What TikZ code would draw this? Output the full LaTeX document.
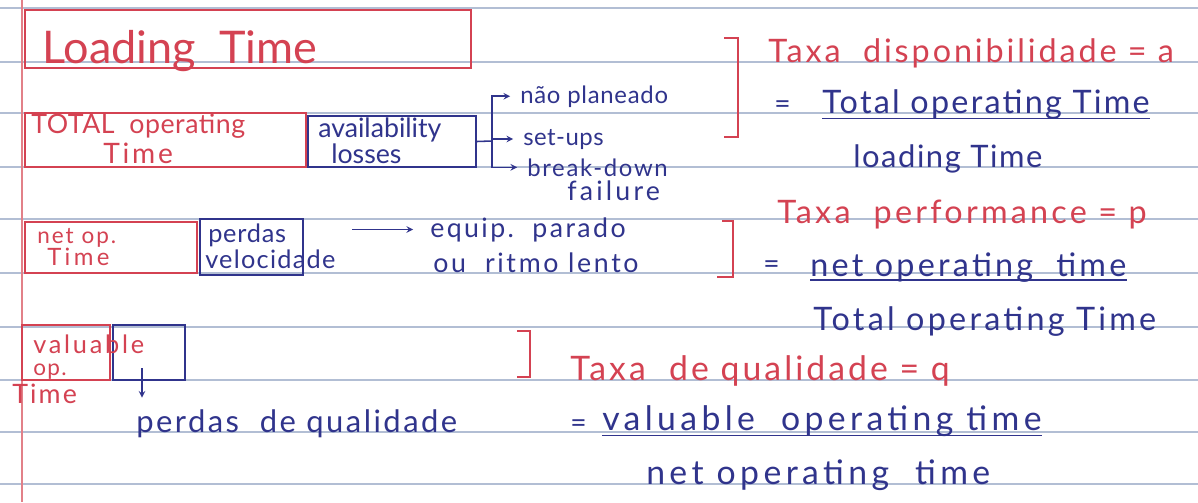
\documentclass[tikz,border=0pt]{standalone}
\usepackage{fontspec}
\setmainfont{Lato}
\usetikzlibrary{fit}
\definecolor{inkred}{RGB}{212,66,82}
\definecolor{inkblue}{RGB}{48,52,140}
\definecolor{ruling}{RGB}{178,190,212}
\definecolor{margin}{RGB}{226,128,136}
% size, letter spacing
\newcommand{\hw}[2]{\fontsize{#1}{#1}\selectfont\addfontfeature{LetterSpace=#2}}
\tikzset{
  redtxt/.style={text=inkred,anchor=base west,inner sep=0pt},
  bluetxt/.style={text=inkblue,anchor=base west,inner sep=0pt},
  redbox/.style={draw=inkred,line width=1.2pt,inner sep=0pt},
  bluebox/.style={draw=inkblue,line width=1.2pt,inner sep=0pt},
  redpen/.style={draw=inkred,line width=1.3pt},
  bluepen/.style={draw=inkblue,line width=1.1pt},
}
\begin{document}
\begin{tikzpicture}[x=0.025cm,y=-0.025cm,>=stealth]
\useasboundingbox[fill=white] (0,0) rectangle (1198,502);
% lined paper
\foreach \y in {8,62,113,167,219,273,327,380,432,484}
  \draw[ruling,line width=0.8pt] (0,\y) -- (1198,\y);
\draw[margin,line width=1.2pt] (22,0) -- (22,502);

% loading time
\node[redbox,fit={(25,10) (471,68)}] (loadbox) {};
\node[redtxt,font=\hw{32}{0}] (load) at (42,63) {Loading\ \ Time};

% availability
\node[redbox,fit={(25,113) (306,167)}] (totbox) {};
\node[redtxt,font=\hw{19}{2}] (tot) at (31,133) {TOTAL\ \ operating};
\node[redtxt,font=\hw{20}{10}] (totb) at (103,163) {Time};
\node[bluebox,fit={(308,116) (476,167)}] (availbox) {};
\node[bluetxt,font=\hw{19}{0}] (avail) at (318,137) {availability};
\node[bluetxt,font=\hw{19}{0}] (loss) at (331,163) {losses};
\node[bluetxt,font=\hw{17}{3}] (plan) at (520,103) {não planeado};
\node[bluetxt,font=\hw{17}{2}] (setups) at (523,145) {set-ups};
\node[bluetxt,font=\hw{17}{7}] (brk) at (527,176) {break-down};
\node[bluetxt,font=\hw{19}{12}] (fail) at (567,200) {failure};
\coordinate (fork) at (492,141);
\draw[bluepen] (availbox.east) -- (fork);
\draw[bluepen,->] (fork) |- ([xshift=-7pt]plan.west);
\draw[bluepen,->] (fork) |- ([xshift=-7pt]setups.west);
\draw[bluepen,->] (fork) |- ([xshift=-7pt]brk.west);

\draw[redpen] (724,38) -- (738,38) -- (738,137) -- (724,137);
\node[redtxt,font=\hw{23}{9}] (taxaa) at (768,62) {Taxa\ \ disponibilidade = a};
\node[bluetxt,font=\hw{20}{0}] (eqa) at (774,113) {=};
\node[bluetxt,font=\hw{23}{7}] (numa) at (822,113) {Total operating Time};
\draw[bluepen] ([yshift=-4pt]numa.base west) -- ([yshift=-4pt]numa.base east);
\node[bluetxt,font=\hw{22}{5}] (dena) at (853,167) {loading Time};

% performance
\node[redbox,fit={(25,222) (197,273)}] (netbox) {};
\node[redtxt,font=\hw{16}{9}] (net) at (37,243) {net op.};
\node[redtxt,font=\hw{17}{14}] (netb) at (47,265) {Time};
\node[bluebox,fit={(200,219) (303,275)}] (velbox) {};
\node[bluetxt,font=\hw{18}{3}] (perd) at (208,242) {perdas};
\node[bluetxt,font=\hw{18}{5}] (vel) at (205,268) {velocidade};
\node[bluetxt,font=\hw{19}{9}] (equip) at (430,237) {equip.\ \ parado};
\node[bluetxt,font=\hw{19}{10}] (ritmo) at (433,272) {ou\ \ ritmo lento};
\coordinate (eqstart) at (352,233);
\draw[bluepen,->] (eqstart |- equip.west) -- ([xshift=-12pt]equip.west);

\draw[redpen] (722,221) -- (733,221) -- (733,277) -- (717,277);
\node[redtxt,font=\hw{23}{10}] (taxap) at (777,223) {Taxa\ \ performance = p};
\node[bluetxt,font=\hw{20}{0}] (eqp) at (763,273) {=};
\node[bluetxt,font=\hw{23}{10}] (nump) at (810,276) {net operating\ \ time};
\draw[bluepen] ([yshift=-3pt]nump.base west) -- ([yshift=-3pt]nump.base east);
\node[bluetxt,font=\hw{23}{10}] (denp) at (813,330) {Total operating Time};

% quality
\node[redbox,fit={(22,325) (110,380)}] (valbox) {};
\node[bluebox,fit={(113,325) (185,380)}] (qbox) {};
\node[redtxt,font=\hw{18}{11}] (val) at (33,353) {valuable};
\node[redtxt,font=\hw{16}{6}] (valb) at (33,375) {op.};
\node[redtxt,font=\hw{19}{8}] (valc) at (12,403) {Time};
\node[bluetxt,font=\hw{22}{8}] (perdq) at (136,432) {perdas\ \ de qualidade};
\coordinate (qstart) at (142,368);
\draw[bluepen,->,shorten >=8pt] (qstart) -- (qstart |- perdq.north);

\draw[redpen] (517,331) -- (530,331) -- (530,377) -- (517,377);
\node[redtxt,font=\hw{24}{9}] (taxaq) at (570,380) {Taxa\ \ de qualidade = q};
\node[bluetxt,font=\hw{20}{0}] (eqq) at (570,432) {=};
\node[bluetxt,font=\hw{24}{13}] (numq) at (602,430) {valuable\ \ operating time};
\draw[bluepen] ([yshift=-4pt]numq.base west) -- ([yshift=-4pt]numq.base east);
\node[bluetxt,font=\hw{24}{13}] (denq) at (646,484) {net operating\ \ time};
\end{tikzpicture}
\end{document}
